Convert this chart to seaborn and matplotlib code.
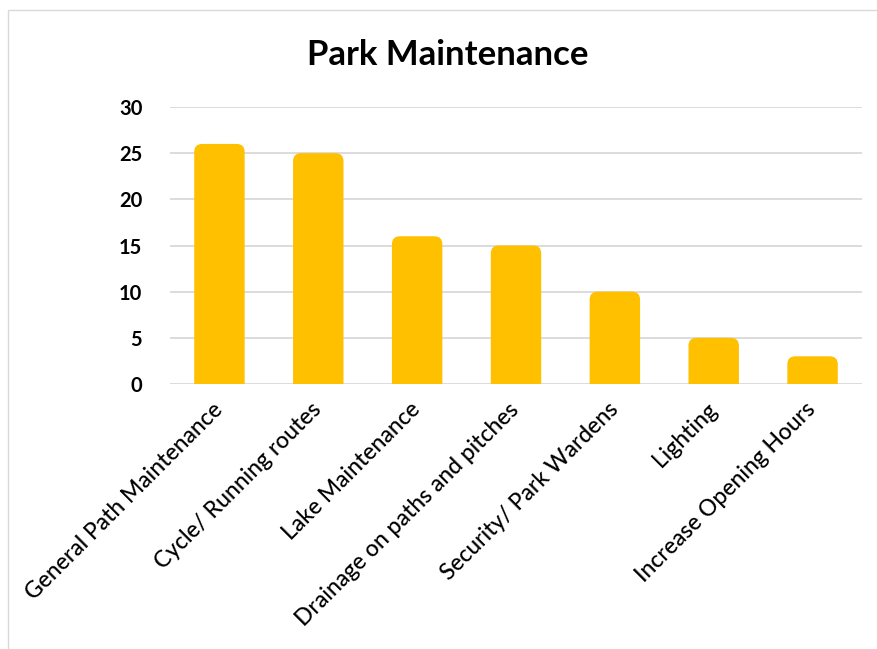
import seaborn as sns
import matplotlib.pyplot as plt
import pandas as pd
from matplotlib.patches import Rectangle, FancyBboxPatch

# Data
categories = ['General Path Maintenance', 'Cycle/ Running routes', 'Lake Maintenance',
              'Drainage on paths and pitches', 'Security/ Park Wardens', 'Lighting',
              'Increase Opening Hours']
counts = [26, 25, 16, 15, 10, 5, 3]
y_ticks = [0, 5, 10, 15, 20, 25, 30]

data = pd.DataFrame({'Category': categories, 'Count': counts})

sns.set_style('white')
plt.rcParams['font.family'] = ['Lato', 'DejaVu Sans']
plt.rcParams['text.color'] = 'black'

fig = plt.figure(figsize=(8.77, 6.49), dpi=100)
ax = fig.add_axes([170 / 877, 1 - 384 / 649, 692 / 877, 277 / 649])

sns.barplot(data=data, x='Category', y='Count', color='#FFC000', width=0.51,
            saturation=1, errorbar=None, ax=ax, zorder=3)

ax.set_ylim(0, 30)
ax.set_xlim(-0.5, len(categories) - 0.5)

# rounded tops: swap each bar for a rounded box that runs below the axis
px_x = 692 / len(categories)
px_y = 277 / 30
r = 8 / px_x
for bar in list(ax.patches):
    x, w, h = bar.get_x(), bar.get_width(), bar.get_height()
    bar.set_visible(False)
    ax.add_patch(FancyBboxPatch((x, -2), w, h + 2,
                                boxstyle=f'round,pad=0,rounding_size={r}',
                                mutation_aspect=px_x / px_y,
                                facecolor='#FFC000', edgecolor='none', zorder=3))

ax.set_yticks(y_ticks)
ax.set_yticklabels([str(t) for t in y_ticks], fontsize=14.5, fontweight='bold',
                   color='black')
ax.yaxis.grid(True, color='#D9D9D9', linewidth=1.3, zorder=0)
ax.tick_params(axis='y', length=0, pad=20)
ax.tick_params(axis='x', length=0, pad=16)
plt.setp(ax.get_xticklabels(), rotation=45, ha='right', va='center',
         rotation_mode='anchor', fontsize=16.5, fontweight='medium', color='black')
ax.set_xlabel('')
ax.set_ylabel('')
sns.despine(ax=ax, left=True, bottom=True)

fig.text(448 / 877, 1 - 55 / 649, 'Park Maintenance', ha='center', va='center',
         fontsize=25, fontweight='bold', color='black')

# chart frame
fig.patches.append(Rectangle((8 / 877, -0.1), 1.2, 1 - 10 / 649 + 0.1,
                             transform=fig.transFigure, fill=False,
                             edgecolor='#D9D9D9', linewidth=1))

fig.savefig('out.png', dpi=100)
